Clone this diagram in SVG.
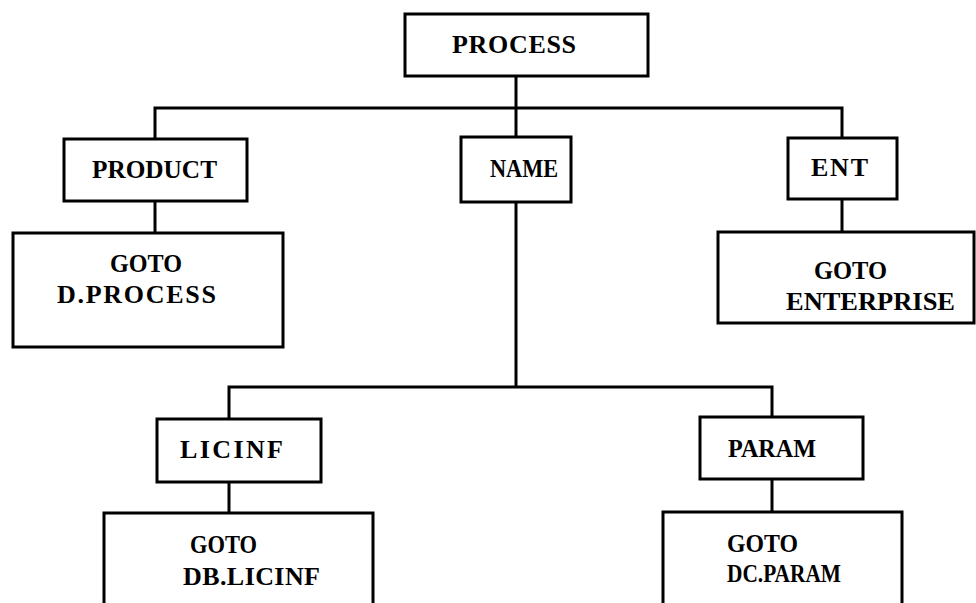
<svg xmlns="http://www.w3.org/2000/svg" width="976" height="603" viewBox="0 0 976 603">
  <style>
    .box { fill: #ffffff; stroke: #000000; stroke-width: 3; }
    .wire { fill: none; stroke: #000000; stroke-width: 3; }
    text { font-family: "Liberation Serif", "DejaVu Serif", serif; font-weight: bold; font-size: 26px; fill: #000000; }
  </style>
  <rect width="976" height="603" fill="#ffffff"/>

  <!-- tree connectors -->
  <g id="connectors">
    <path class="wire" d="M516 76 V108 M155 139 V108 H842 V138 M516 108 V137"/>
    <path class="wire" d="M155 201 V233"/>
    <path class="wire" d="M842 199 V232"/>
    <path class="wire" d="M516 202 V387 M229 419 V387 H772 V417"/>
    <path class="wire" d="M229 482 V513"/>
    <path class="wire" d="M772 479 V512"/>
  </g>

  <g id="process">
    <rect class="box" x="405" y="14" width="243" height="62"/>
    <text x="452" y="53" textLength="124" lengthAdjust="spacing">PROCESS</text>
  </g>

  <g id="product">
    <rect class="box" x="64" y="139" width="183" height="62"/>
    <text x="92" y="178" textLength="125" lengthAdjust="spacingAndGlyphs">PRODUCT</text>
  </g>

  <g id="goto-d-process">
    <rect class="box" x="13" y="233" width="270" height="114"/>
    <text x="110" y="272" textLength="72" lengthAdjust="spacingAndGlyphs">GOTO</text>
    <text x="57" y="303" textLength="159" lengthAdjust="spacing">D.PROCESS</text>
  </g>

  <g id="name">
    <rect class="box" x="461" y="137" width="110" height="65"/>
    <text x="490" y="177" textLength="68" lengthAdjust="spacingAndGlyphs">NAME</text>
  </g>

  <g id="ent">
    <rect class="box" x="788" y="138" width="109" height="61"/>
    <text x="811" y="176" textLength="57" lengthAdjust="spacing">ENT</text>
  </g>

  <g id="goto-enterprise">
    <rect class="box" x="718" y="232" width="256" height="91"/>
    <text x="814" y="279" textLength="73" lengthAdjust="spacingAndGlyphs">GOTO</text>
    <text x="786" y="310" textLength="169" lengthAdjust="spacingAndGlyphs">ENTERPRISE</text>
  </g>

  <g id="licinf">
    <rect class="box" x="157" y="419" width="164" height="63"/>
    <text x="180" y="458" textLength="103" lengthAdjust="spacing">LICINF</text>
  </g>

  <g id="goto-db-licinf">
    <rect class="box" x="104" y="513" width="269" height="110"/>
    <text x="190" y="553" textLength="67" lengthAdjust="spacingAndGlyphs">GOTO</text>
    <text x="183" y="585" textLength="137" lengthAdjust="spacing">DB.LICINF</text>
  </g>

  <g id="param">
    <rect class="box" x="700" y="417" width="163" height="62"/>
    <text x="728" y="457" textLength="88" lengthAdjust="spacingAndGlyphs">PARAM</text>
  </g>

  <g id="goto-dc-param">
    <rect class="box" x="663" y="512" width="239" height="110"/>
    <text x="727" y="552" textLength="71" lengthAdjust="spacingAndGlyphs">GOTO</text>
    <text x="727" y="582" textLength="114" lengthAdjust="spacingAndGlyphs">DC.PARAM</text>
  </g>
</svg>
